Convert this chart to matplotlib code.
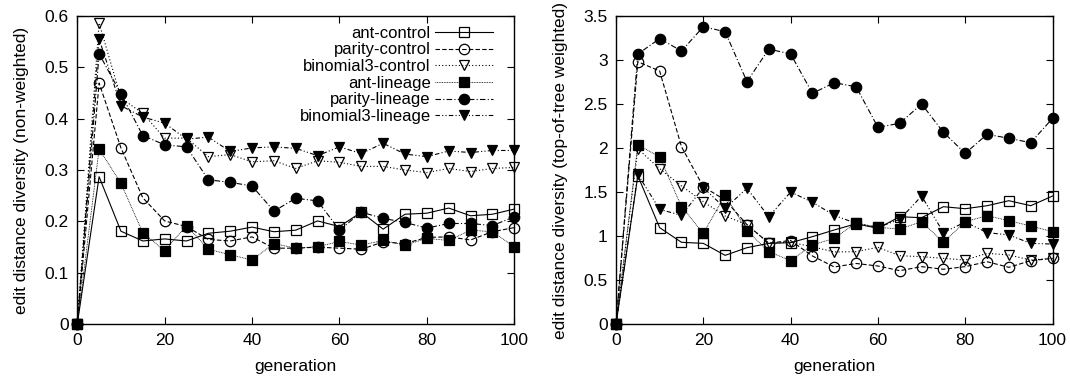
import numpy as np
import matplotlib.pyplot as plt

plt.rcParams['font.family'] = ['Liberation Sans', 'DejaVu Sans']

generations = list(range(0, 101, 5))
series_names = ["ant-control", "parity-control", "binomial3-control",
                "ant-lineage", "parity-lineage", "binomial3-lineage"]

# left panel: non-weighted diversity
left_ant_control = [0, 0.287, 0.181, 0.162, 0.166, 0.162, 0.177, 0.181, 0.189, 0.180, 0.183,
                    0.201, 0.190, 0.218, 0.185, 0.214, 0.216, 0.226, 0.211, 0.214, 0.224]
left_parity_control = [0, 0.469, 0.343, 0.246, 0.201, 0.190, 0.165, 0.162, 0.170, 0.148, 0.148,
                       0.150, 0.148, 0.146, 0.160, 0.157, 0.169, 0.170, 0.164, 0.180, 0.188]
left_binomial3_control = [0, 0.586, 0.440, 0.410, 0.362, 0.362, 0.326, 0.330, 0.316, 0.318, 0.303,
                          0.318, 0.315, 0.307, 0.307, 0.300, 0.295, 0.303, 0.297, 0.303, 0.305]
left_ant_lineage = [0, 0.341, 0.274, 0.178, 0.143, 0.192, 0.146, 0.135, 0.125, 0.157, 0.148,
                    0.151, 0.161, 0.154, 0.163, 0.154, 0.167, 0.163, 0.183, 0.180, 0.151]
left_parity_lineage = [0, 0.526, 0.448, 0.367, 0.349, 0.345, 0.281, 0.276, 0.269, 0.220, 0.245,
                       0.240, 0.183, 0.218, 0.206, 0.198, 0.187, 0.196, 0.196, 0.192, 0.209]
left_binomial3_lineage = [0, 0.555, 0.425, 0.403, 0.391, 0.360, 0.364, 0.336, 0.343, 0.345, 0.342,
                          0.328, 0.345, 0.332, 0.352, 0.331, 0.326, 0.337, 0.334, 0.338, 0.338]

# right panel: top-of-tree weighted diversity
right_ant_control = [0, 1.685, 1.096, 0.930, 0.918, 0.782, 0.869, 0.918, 0.926, 0.994, 1.070,
                     1.140, 1.089, 1.220, 1.209, 1.334, 1.311, 1.345, 1.402, 1.345, 1.455]
right_parity_control = [0, 2.978, 2.873, 2.014, 1.560, 1.410, 1.130, 0.920, 0.950, 0.775, 0.650,
                        0.690, 0.661, 0.608, 0.654, 0.624, 0.654, 0.710, 0.646, 0.722, 0.748]
right_binomial3_control = [0, 1.990, 1.765, 1.569, 1.391, 1.228, 1.130, 0.920, 0.930, 0.880, 0.820,
                           0.824, 0.873, 0.778, 0.767, 0.748, 0.729, 0.805, 0.786, 0.729, 0.748]
right_ant_lineage = [0, 2.034, 1.900, 1.334, 1.032, 1.466, 1.062, 0.824, 0.722, 0.900, 0.975,
                     1.150, 1.100, 1.080, 1.164, 0.930, 1.164, 1.232, 1.175, 1.115, 1.050]
right_parity_lineage = [0, 3.066, 3.240, 3.100, 3.375, 3.319, 2.752, 3.122, 3.066, 2.620, 2.740,
                        2.695, 2.234, 2.280, 2.499, 2.177, 1.939, 2.155, 2.110, 2.060, 2.336]
right_binomial3_lineage = [0, 1.700, 1.304, 1.235, 1.550, 1.316, 1.542, 1.220, 1.500, 1.385, 1.235,
                           1.145, 1.100, 1.190, 1.455, 1.040, 1.160, 1.040, 1.013, 0.918, 0.910]

styles = [
    dict(marker='s', mfc='none', linestyle='-'),
    dict(marker='o', mfc='none', linestyle=(0, (4, 2))),
    dict(marker='v', mfc='none', linestyle=(0, (1, 2))),
    dict(marker='s', mfc='black', linestyle=(0, (1, 1)), lw=0.6),
    dict(marker='o', mfc='black', linestyle=(0, (5, 2, 1, 2))),
    dict(marker='v', mfc='black', linestyle=(0, (4, 2, 1, 2, 1, 2))),
]


def draw_panel(ax, series, ylabel, ymax, ystep, legend=False):
    for name, values, style in zip(series_names, series, styles):
        kw = dict(color='black', lw=0.8, ms=7.5, mec='black', mew=0.9, clip_on=False)
        kw.update(style)
        ax.plot(generations, values, label=name, **kw)
    ax.set_xlim(0, 100)
    ax.set_ylim(0, ymax)
    ax.set_xticks(range(0, 101, 20))
    yt = np.arange(0, ymax + 1e-9, ystep)
    ax.set_yticks(yt)
    ax.set_yticklabels([f"{v:g}" for v in yt])
    ax.tick_params(direction='in', top=True, right=True, length=5, width=0.8,
                   labelsize=12.5, pad=6)
    for sp in ax.spines.values():
        sp.set_linewidth(1.0)
        sp.set_zorder(3)
    ax.set_xlabel("generation", fontsize=12.5, labelpad=8)
    ax.set_ylabel(ylabel, fontsize=12.5, labelpad=11)
    if legend:
        ax.legend(loc='upper right', markerfirst=False, frameon=False, fontsize=12,
                  handlelength=3.5, handletextpad=0.25, labelspacing=0.1,
                  borderaxespad=0.2, bbox_to_anchor=(0.975, 1.0))


fig = plt.figure(figsize=(10.7, 3.8), dpi=100)
ax1 = fig.add_axes([0.0722, 0.1466, 0.4084, 0.812])
ax2 = fig.add_axes([0.5757, 0.1466, 0.408, 0.812])

draw_panel(ax1, [left_ant_control, left_parity_control, left_binomial3_control,
                 left_ant_lineage, left_parity_lineage, left_binomial3_lineage],
           "edit distance diversity (non-weighted)", 0.6, 0.1, legend=True)
draw_panel(ax2, [right_ant_control, right_parity_control, right_binomial3_control,
                 right_ant_lineage, right_parity_lineage, right_binomial3_lineage],
           "edit distance diversity (top-of-tree weighted)", 3.5, 0.5)

fig.savefig("out.png", dpi=100)
